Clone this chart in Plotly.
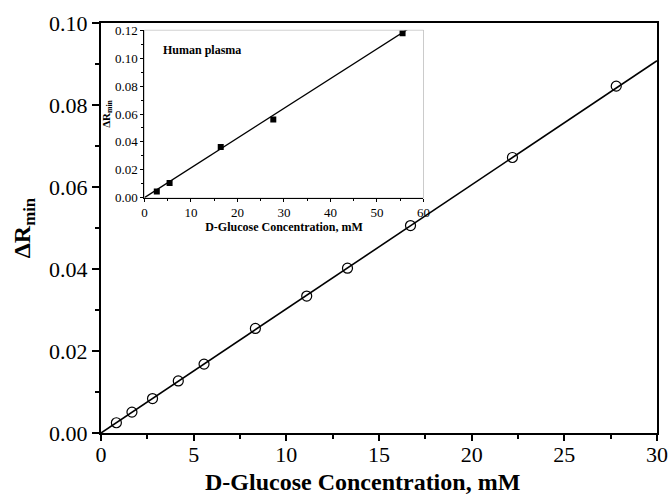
import plotly.graph_objects as go

# Main data: D-Glucose (mM) vs Delta R_min
main_x = [0.83, 1.67, 2.78, 4.17, 5.56, 8.33, 11.1, 13.3, 16.7, 22.2, 27.8]
main_y = [0.0025, 0.0051, 0.0084, 0.0127, 0.0168, 0.0255, 0.0334, 0.0402, 0.0506, 0.0672, 0.0846]
main_fit_x = [0.0, 30.0]
main_fit_y = [0.0, 0.0908]

# Inset: human plasma
inset_x = [2.65, 5.4, 16.4, 27.7, 55.5]
inset_y = [0.0045, 0.0105, 0.0363, 0.0560, 0.1180]
inset_fit_x = [0.0, 56.7]
inset_fit_y = [0.0, 0.1210]

FONT = "Liberation Serif"

fig = go.Figure()
fig.add_trace(go.Scatter(x=main_fit_x, y=main_fit_y, mode="lines",
                         line=dict(color="black", width=1.6), showlegend=False))
fig.add_trace(go.Scatter(x=main_x, y=main_y, mode="markers",
                         marker=dict(symbol="circle-open", size=10, color="black",
                                     line=dict(width=1.2, color="black")),
                         showlegend=False))
fig.add_trace(go.Scatter(x=inset_fit_x, y=inset_fit_y, mode="lines", xaxis="x2", yaxis="y2",
                         line=dict(color="black", width=1.3), showlegend=False))
fig.add_trace(go.Scatter(x=inset_x, y=inset_y, mode="markers", xaxis="x2", yaxis="y2",
                         marker=dict(symbol="square", size=6, color="black"),
                         showlegend=False))

W, H = 671, 496
L, R, T, B = 101, 14, 23, 63

fig.update_layout(
    width=W, height=H,
    margin=dict(l=L, r=R, t=T, b=B, autoexpand=False),
    paper_bgcolor="white", plot_bgcolor="white",
    font=dict(family=FONT, color="black"),
    xaxis=dict(range=[0, 30], dtick=5, tick0=0, showgrid=False, zeroline=False, automargin=False,
               showline=True, linecolor="black", linewidth=2, mirror=True,
               ticks="outside", ticklen=6, tickwidth=2, tickcolor="black",
               ticklabelstandoff=-5,
               minor=dict(dtick=2.5, ticks="outside", ticklen=4, tickwidth=2, tickcolor="black"),
               tickfont=dict(size=22, family=FONT)),
    yaxis=dict(range=[0, 0.10], dtick=0.02, tick0=0, tickformat=".2f", showgrid=False, zeroline=False,
               automargin=False,
               showline=True, linecolor="black", linewidth=2, mirror=True,
               ticks="outside", ticklen=7, tickwidth=2, tickcolor="black",
               minor=dict(dtick=0.01, ticks="outside", ticklen=4, tickwidth=2, tickcolor="black"),
               tickfont=dict(size=22, family=FONT),
               title=dict(text="<b>ΔR<sub>min</sub></b>", font=dict(size=24, family=FONT),
                          standoff=12)),
    xaxis2=dict(domain=[0.0782, 0.580], anchor="y2", range=[0, 60], dtick=10, tick0=0,
                automargin=False,
                showgrid=False, zeroline=False, showline=True, linecolor="black", linewidth=1.3,
                ticks="outside", ticklen=3, tickwidth=1, tickcolor="black",
                minor=dict(dtick=5, ticks="outside", ticklen=2, tickwidth=1, tickcolor="black"),
                tickfont=dict(size=13, family=FONT),
                title=dict(text="<b>D-Glucose Concentration, mM</b>", font=dict(size=12, family=FONT),
                           standoff=0)),
    yaxis2=dict(domain=[0.574, 0.982], anchor="x2", range=[0, 0.12], dtick=0.02, tick0=0,
                automargin=False,
                tickformat=".2f", showgrid=False, zeroline=False, showline=True,
                linecolor="black", linewidth=1.3,
                ticks="outside", ticklen=3, tickwidth=1, tickcolor="black",
                minor=dict(dtick=0.01, ticks="outside", ticklen=2, tickwidth=1, tickcolor="black"),
                tickfont=dict(size=13, family=FONT),
                title=dict(text="<b>ΔR<sub>min</sub></b>", font=dict(size=11, family=FONT),
                           standoff=2)),
    shapes=[dict(type="rect", xref="x2 domain", yref="y2 domain", x0=0, x1=1, y0=0, y1=1,
                 line=dict(color="#999999", width=1), layer="below")],
    annotations=[
        dict(text="<b>Human plasma</b>", xref="x2 domain", yref="y2 domain",
             x=0.06, y=0.88, xanchor="left", yanchor="middle", showarrow=False,
             font=dict(size=12, family=FONT)),
        dict(text="<b>D-Glucose Concentration, mM</b>", xref="paper", yref="paper",
             x=(362 - L) / (W - L - R), y=(H - B - 482) / (H - T - B),
             xanchor="center", yanchor="middle", showarrow=False,
             font=dict(size=24, family=FONT)),
    ],
)

fig.write_html("out.html")
